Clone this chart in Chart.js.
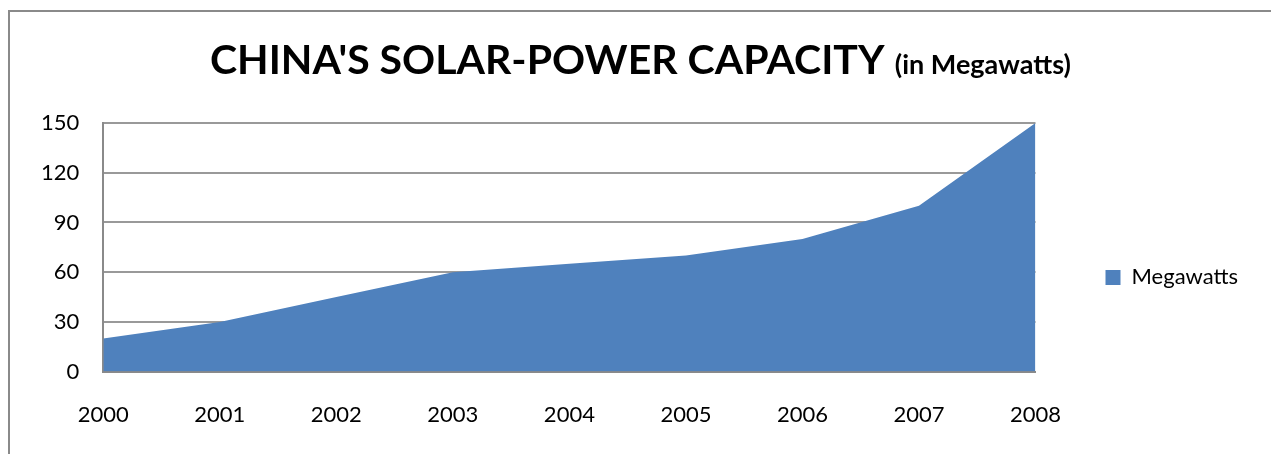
<!DOCTYPE html>
<html>
<head>
<meta charset="utf-8">
<script src="https://cdn.jsdelivr.net/npm/chart.js@4.4.0/dist/chart.umd.min.js"></script>
<style>
  html, body { margin: 0; padding: 0; background: #fff; overflow: hidden; }
  #wrap { position: relative; width: 1271px; height: 454px; }
  canvas { position: absolute; left: 0; top: 0; }
  #frame { position: absolute; left: 8px; top: 10px; width: 1300px; height: 500px;
           border: 2px solid #8a8a8a; box-sizing: border-box; }
  #title { position: absolute; left: 210px; top: 35px; font-family: Lato, sans-serif;
           font-weight: 700; font-size: 41px; line-height: 48px; white-space: nowrap; color: #000; }
  #title .sub { font-size: 27px; margin-left: 2px; }
</style>
</head>
<body>
<div id="wrap">
  <canvas id="chart" width="1271" height="454"></canvas>
  <div id="frame"></div>
  <div id="title">CHINA'S SOLAR-POWER CAPACITY <span class="sub">(in Megawatts)</span></div>
</div>
<script>
// values
const years = ["2000", "2001", "2002", "2003", "2004", "2005", "2006", "2007", "2008"];
const megawatts = [20, 30, 45, 60, 65, 70, 80, 100, 150];
const yTicks = [0, 30, 60, 90, 120, 150];

Chart.defaults.font.family = "Lato, sans-serif";

const canvas = document.getElementById("chart");

new Chart(canvas, {
  type: "line",
  data: {
    labels: years,
    datasets: [
      {
        label: "Megawatts",
        data: megawatts,
        fill: "origin",
        backgroundColor: "#4F81BD",
        borderColor: "#4F81BD",
        borderWidth: 0,
        pointRadius: 0,
        tension: 0,
      },
    ],
  },
  options: {
    responsive: false,
    animation: false,
    devicePixelRatio: 1,
    layout: { padding: { top: 123, left: 17, right: 23, bottom: 4 } },
    plugins: {
      tooltip: { enabled: false },
      legend: {
        position: "right",
        align: "start",
        // empty title only pushes the single entry down
        title: { display: true, text: " ", font: { size: 12 }, padding: { top: 0, bottom: 59 } },
        labels: { boxWidth: 15, boxHeight: 15, padding: 70, color: "#000", font: { size: 22 } },
      },
    },
    scales: {
      x: {
        offset: false,
        grid: { display: false },
        border: { display: true, color: "#8a8a8a", width: 2 },
        ticks: { color: "#000", font: { size: 22 }, padding: 22, maxRotation: 0, autoSkip: false },
      },
      y: {
        min: yTicks[0],
        max: yTicks[yTicks.length - 1],
        ticks: { stepSize: yTicks[1] - yTicks[0], color: "#000", font: { size: 22 }, padding: 24 },
        grid: { color: "#999", lineWidth: 2, drawTicks: false },
        border: { display: true, color: "#8a8a8a", width: 2 },
      },
    },
  },
});
</script>
</body>
</html>
